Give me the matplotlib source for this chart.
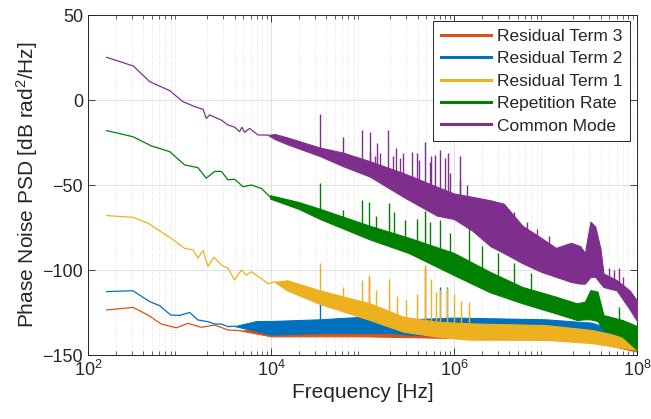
import numpy as np
import matplotlib
matplotlib.use("Agg")
import matplotlib.pyplot as plt
from matplotlib.ticker import LogLocator, FixedLocator, NullFormatter

plt.rcParams['font.family'] = ['Liberation Sans', 'DejaVu Sans']
plt.rcParams['mathtext.fontset'] = 'custom'
plt.rcParams['mathtext.rm'] = 'Liberation Sans'
plt.rcParams['mathtext.it'] = 'Liberation Sans:italic'

# ---------------- data ----------------
series_names = ["Residual Term 3", "Residual Term 2", "Residual Term 1",
                "Repetition Rate", "Common Mode"]
series_colors = ["#D95319", "#0072BD", "#EDB120", "#008000", "#7E2F8E"]

# Common Mode: smooth low-frequency part
cm_f = [160, 313, 472, 782, 1090, 1470, 1810, 1960, 2140, 2860, 3390, 4010,
        4550, 4820, 5150, 5850, 7210, 9270]
cm_v = [25.1, 20.0, 10.8, 5.5, -1.0, -3.9, -5.5, -10.8, -8.8, -11.8, -14.7,
        -16.0, -18.6, -16.0, -19.0, -16.7, -20.6, -20.6]
# Common Mode: noisy band (upper / lower envelope)
cm_band_f = [9270, 11000, 15000, 34300, 61700, 1.2e5, 2.8e5, 6.5e5, 1.0e6,
             1.6e6, 2.5e6, 3.5e6, 5.6e6, 8.9e6, 1.3e7, 1.9e7, 2.4e7, 2.7e7,
             2.9e7, 3.1e7, 3.5e7, 4.0e7, 4.3e7, 6.0e7, 8.3e7, 1.0e8]
cm_band_hi = [-20.6, -20, -22, -28, -31, -36, -43, -51, -55, -57, -59, -61,
              -74, -81, -87, -84, -86, -90, -80, -71.6, -74.5, -88, -102,
              -106, -112, -118]
cm_band_lo = [-20.6, -23, -26, -33, -39, -45, -57, -68, -70, -77, -86, -90,
              -96, -101, -104, -107, -108, -108, -106, -104, -104, -108,
              -110, -112, -123, -130]
cm_spk_f = [34300, 61700, 97700, 1.2e5, 1.21e5, 1.37e5, 1.45e5, 1.55e5,
            1.9e5, 2.17e5, 2.3e5, 2.57e5, 2.8e5, 3.5e5, 3.91e5, 4.1e5, 4.8e5,
            5.47e5, 5.6e5, 6.2e5, 7.1e5, 7.95e5, 8.7e5, 9.0e5, 1.15e6,
            1.16e6, 1.38e6, 4.5e6, 6.3e6, 8.0e6, 1.1e7, 5.0e7, 5.6e7, 6.3e7,
            7.1e7]
cm_spk_top = [-8, -21.6, -17.6, -18.6, -30.4, -33, -25, -31.4, -17.6, -33,
              -28, -34.3, -31, -30.4, -31.4, -35, -24.5, -36.3, -33, -32.4,
              -29.4, -34.3, -31, -43, -33, -47, -50, -66, -72, -76, -80, -99,
              -100, -98.8, -104]
cm_spk_bot = [-30, -35, -38, -40, -40, -41, -41, -42, -44, -44, -45, -46,
              -46, -48, -49, -49, -50, -50, -50, -51, -52, -53, -54, -54,
              -56, -56, -57, -80, -90, -95, -98, -106, -107, -108, -110]

# Repetition Rate
rr_f = [160, 310, 492, 782, 1140, 1590, 1960, 2430, 2870, 3390, 4010, 4940,
        6100, 7840, 9770]
rr_v = [-18.0, -21.6, -27.0, -30.4, -38.2, -39.8, -46.0, -42.0, -42.0, -47.0,
        -46.6, -51.0, -50.0, -52.0, -57.0]
rr_band_f = [9770, 20000, 34300, 1.2e5, 3.2e5, 1.0e6, 2.45e6, 5.6e6, 1.3e7,
             2.2e7, 2.7e7, 3.1e7, 3.7e7, 4.3e7, 6.9e7, 1.0e8]
rr_band_hi = [-56, -60, -64, -74, -81, -90, -101, -110, -115.7, -119.6,
              -118.6, -111.8, -112.7, -126.5, -129.4, -133]
rr_band_lo = [-58, -64, -70, -82, -90, -103, -113, -119.6, -125.5, -129.4,
              -129, -129, -130, -135.3, -139.2, -147]
rr_spk_f = [34300, 61700, 97700, 1.17e5, 1.4e5, 1.95e5, 2.2e5, 2.9e5,
            3.9e5, 4.8e5, 5.5e5, 7.1e5, 9.0e5, 1.45e6, 2.0e6, 3.0e6, 4.5e6,
            7.0e6, 6.3e7]
rr_spk_top = [-49, -64.7, -59, -60, -68, -60.8, -66, -70.6, -70, -65, -72,
              -70.6, -78, -75.5, -86, -90, -96, -102, -121.6]
rr_spk_bot = [-67, -72, -78, -79, -82, -82, -84, -86, -88, -88, -90, -90,
              -96, -95, -102, -106, -110, -114, -132]

# Residual Term 1
r1_f = [160, 310, 453, 813, 1140, 1410, 1590, 1810, 2050, 2380, 2870, 3390,
        4010, 4730, 5370, 6100, 7840, 9270, 10960]
r1_v = [-68.0, -69.0, -72.5, -81.4, -87.3, -88.2, -93.0, -88.6, -98.0, -92.5,
        -97.0, -99.0, -105.9, -100.0, -103.0, -101.0, -105.0, -108.0, -107.0]
r1_band_f = [10960, 15000, 34300, 1.2e5, 2.8e5, 6.5e5, 1.5e6, 1.0e7, 3.2e7,
             1.0e8]
r1_band_hi = [-107, -106, -112, -119.6, -127.5, -130.4, -131.4, -132.4,
              -135.3, -141]
r1_band_lo = [-107, -112, -120, -129.4, -136.3, -139.2, -141, -141, -143,
              -147]
r1_spk_f = [34300, 61700, 97700, 1.17e5, 1.4e5, 1.95e5, 2.4e5, 3.0e5,
            3.9e5, 4.8e5, 5.6e5, 6.3e5, 7.1e5, 8.3e5, 1.0e6, 1.2e6, 1.45e6]
r1_spk_top = [-96, -110, -105.9, -103, -112, -105, -115, -117.6, -114, -97,
              -105, -113, -111.8, -110.8, -114, -118, -118.6]
r1_spk_bot = [-116, -120, -122, -123, -125, -127, -130, -130, -132, -132,
              -133, -134, -134, -134, -135, -136, -135]

# Residual Term 2
r2_f = [160, 310, 472, 608, 802, 1004, 1290, 1590, 2050, 2430, 2870, 3390,
        4010]
r2_v = [-112.7, -112.2, -118.6, -121.0, -126.5, -126.7, -125.0, -129.4,
        -130.4, -131.8, -131.8, -133.3, -133.0]
r2_band_f = [4010, 7000, 10000, 34300, 1.0e5, 2.0e5, 3.2e5, 1.0e6, 1.0e7,
             3.2e7, 1.0e8]
r2_band_hi = [-133, -130, -130, -129, -127.5, -127.5, -129, -128, -129, -131,
              -140]
r2_band_lo = [-133, -136, -138, -137, -137, -137, -138, -139, -139, -141,
              -147]
r2_spk_f = [34300, 7.1e5, 8.3e5]
r2_spk_top = [-117.6, -110, -109.8]
r2_spk_bot = [-130, -130, -130]

# Residual Term 3
r3_f = [160, 310, 453, 632, 922, 1240, 1730, 2430, 3390, 4730]
r3_v = [-123.5, -122.0, -126.5, -131.8, -134.0, -131.4, -133.7, -132.4,
        -135.3, -135.7]
r3_band_f = [4730, 10000, 1.0e5, 1.0e6, 1.0e7, 3.2e7, 1.0e8]
r3_band_hi = [-135.7, -133, -132, -131, -131, -133, -140]
r3_band_lo = [-135.7, -139, -139, -140, -141, -142, -148]
r3_spk_f = [4.8e5, 1.17e5]
r3_spk_top = [-99, -104]
r3_spk_bot = [-131, -132]

x_ticks = [1e2, 1e4, 1e6, 1e8]
y_ticks = [-150, -100, -50, 0, 50]

series = [
    (r3_f, r3_v, r3_band_f, r3_band_hi, r3_band_lo, r3_spk_f, r3_spk_top, r3_spk_bot),
    (r2_f, r2_v, r2_band_f, r2_band_hi, r2_band_lo, r2_spk_f, r2_spk_top, r2_spk_bot),
    (r1_f, r1_v, r1_band_f, r1_band_hi, r1_band_lo, r1_spk_f, r1_spk_top, r1_spk_bot),
    (rr_f, rr_v, rr_band_f, rr_band_hi, rr_band_lo, rr_spk_f, rr_spk_top, rr_spk_bot),
    (cm_f, cm_v, cm_band_f, cm_band_hi, cm_band_lo, cm_spk_f, cm_spk_top, cm_spk_bot),
]

# ---------------- figure ----------------
fig = plt.figure(figsize=(6.51, 4.19), dpi=100)
ax = fig.add_axes([88 / 651, 1 - 355 / 419, (637 - 88) / 651, (355 - 15) / 419])

text_col = "#262626"
handles = []
for i, (lf, lv, bf, bh, bl, sf, st, sb) in enumerate(series):
    c = series_colors[i]
    z = 2 + i
    h, = ax.plot(lf, lv, color=c, lw=0.9, zorder=z, label=series_names[i])
    handles.append(h)
    ax.fill_between(bf, bl, bh, color=c, lw=0.8, edgecolor=c, zorder=z)
    ax.vlines(sf, sb, st, color=c, lw=1.0, zorder=z)

ax.set_xscale("log")
ax.set_xlim(1e2, 1e8)
ax.set_ylim(-150, 50)
ax.xaxis.set_major_locator(FixedLocator(x_ticks))
ax.xaxis.set_minor_locator(LogLocator(base=10, subs=np.arange(2, 10), numticks=100))
ax.xaxis.set_minor_formatter(NullFormatter())
ax.set_yticks(y_ticks)

ax.grid(True, which="major", color="#DCDCDC", lw=0.6, zorder=0)
ax.grid(True, which="minor", axis="x", color="#C8C8C8", lw=0.5,
        linestyle=(0, (1, 2.5)), zorder=0)
ax.set_axisbelow(True)

ax.tick_params(which="both", direction="in", top=True, right=True,
               colors=text_col, labelsize=13)
ax.tick_params(which="major", length=5, width=0.6)
ax.tick_params(which="minor", length=3, width=0.5)
for s in ax.spines.values():
    s.set_color(text_col)
    s.set_linewidth(0.7)

ax.set_xlabel("Frequency [Hz]", fontsize=15, color=text_col, labelpad=2)
ax.set_ylabel("Phase Noise PSD [dB rad$^2$/Hz]", fontsize=15, color=text_col,
              labelpad=2)

leg = ax.legend(handles=handles, loc="upper right", fontsize=12.5,
                frameon=True, fancybox=False, edgecolor=text_col,
                framealpha=1, handlelength=2.9, handletextpad=0.3,
                borderpad=0.45, labelspacing=0.42, borderaxespad=0,
                bbox_to_anchor=(0.987, 0.983))
leg.get_frame().set_linewidth(0.7)
for ln in leg.get_lines():
    ln.set_linewidth(2.2)
for t in leg.get_texts():
    t.set_color(text_col)

fig.savefig("out.png", dpi=100)
